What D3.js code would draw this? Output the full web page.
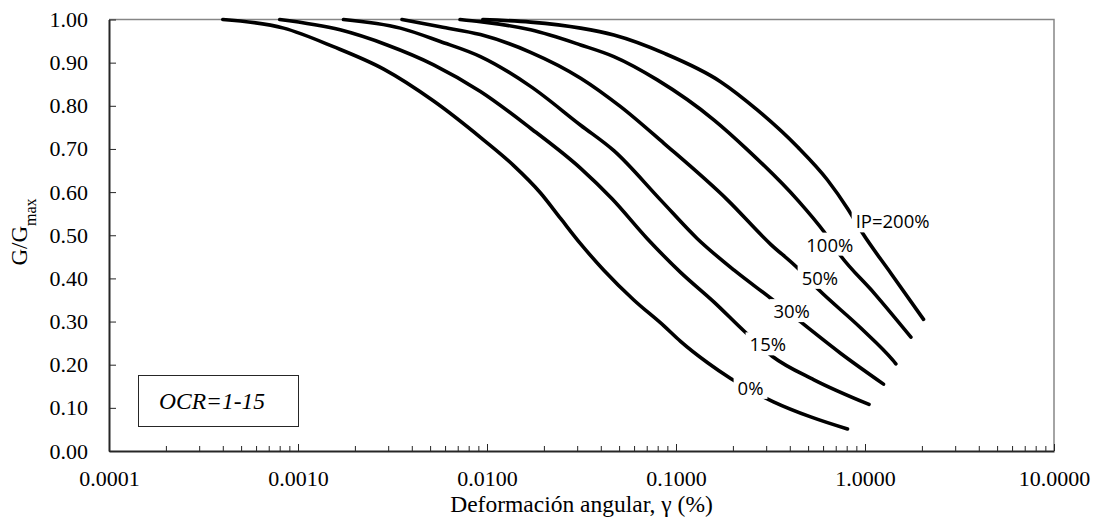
<!DOCTYPE html>
<html>
<head>
<meta charset="utf-8">
<script src="https://cdn.jsdelivr.net/npm/d3@7"></script>
<style>
  body { margin: 0; background: #fff; }
  svg { display: block; }
  .axis text { font-family: "Liberation Serif", "Times New Roman", serif; font-size: 22px; fill: #000; }
  .axis path, .axis line { stroke: #262626; }
</style>
</head>
<body>
<div id="chart"></div>
<script>
// Vucetic & Dobry style G/Gmax curves, one pair of arrays per IP value
var ipLabels = ["0%", "15%", "30%", "50%", "100%", "IP=200%"];

var gammaIP0   = [0.0004, 0.00084, 0.00154, 0.00284, 0.00522, 0.0094, 0.0138, 0.0192, 0.0245, 0.0313, 0.0415, 0.0598, 0.0863, 0.1057, 0.1464, 0.1946, 0.328, 0.516, 0.808];
var ratioIP0   = [1.000, 0.980, 0.937, 0.885, 0.811, 0.724, 0.662, 0.598, 0.539, 0.480, 0.419, 0.350, 0.290, 0.254, 0.205, 0.168, 0.114, 0.079, 0.051];

var gammaIP15  = [0.0008, 0.00167, 0.00296, 0.00522, 0.00923, 0.017, 0.0313, 0.046, 0.0705, 0.1057, 0.159, 0.229, 0.324, 0.537, 1.05];
var ratioIP15  = [1.000, 0.976, 0.941, 0.895, 0.833, 0.748, 0.655, 0.584, 0.492, 0.414, 0.345, 0.278, 0.219, 0.165, 0.108];

var gammaIP30  = [0.00174, 0.00348, 0.00566, 0.00923, 0.017, 0.0313, 0.0469, 0.0828, 0.1297, 0.203, 0.317, 0.448, 0.745, 1.253];
var ratioIP30  = [1.000, 0.980, 0.949, 0.914, 0.845, 0.755, 0.696, 0.582, 0.492, 0.419, 0.354, 0.302, 0.226, 0.155];

var gammaIP50  = [0.00355, 0.00566, 0.00923, 0.017, 0.0313, 0.0509, 0.0863, 0.187, 0.317, 0.430, 0.571, 0.95, 1.40, 1.456];
var ratioIP50  = [1.000, 0.983, 0.965, 0.924, 0.864, 0.798, 0.713, 0.582, 0.479, 0.428, 0.373, 0.285, 0.211, 0.202];

var gammaIP100 = [0.0072, 0.00923, 0.017, 0.0313, 0.0469, 0.0796, 0.159, 0.239, 0.439, 0.607, 0.745, 1.117, 1.749];
var ratioIP100 = [1.000, 0.995, 0.976, 0.941, 0.914, 0.860, 0.767, 0.698, 0.582, 0.508, 0.452, 0.366, 0.264];

var gammaIP200 = [0.0095, 0.017, 0.0313, 0.0469, 0.0863, 0.172, 0.270, 0.439, 0.633, 0.808, 0.970, 1.37, 2.04];
var ratioIP200 = [1.000, 0.994, 0.980, 0.964, 0.922, 0.856, 0.790, 0.705, 0.628, 0.562, 0.505, 0.412, 0.305];

// where each curve label sits (strain, G/Gmax)
var labelGamma = [0.248, 0.306, 0.409, 0.577, 0.651, 1.40];
var labelRatio = [0.145, 0.246, 0.323, 0.400, 0.477, 0.531];

var xTicks = [0.0001, 0.001, 0.01, 0.1, 1, 10];
var yTicks = [0, 0.1, 0.2, 0.3, 0.4, 0.5, 0.6, 0.7, 0.8, 0.9, 1.0];

var gammas = [gammaIP0, gammaIP15, gammaIP30, gammaIP50, gammaIP100, gammaIP200];
var ratios = [ratioIP0, ratioIP15, ratioIP30, ratioIP50, ratioIP100, ratioIP200];

var width = 1098, height = 518,
    plotLeft = 109, plotRight = 1054, plotTop = 19.5, plotBottom = 451;

var svg = d3.select("#chart").append("svg")
    .attr("width", width)
    .attr("height", height);

var x = d3.scaleLog().domain([0.0001, 10]).range([plotLeft, plotRight]);
var y = d3.scaleLinear().domain([0, 1]).range([plotBottom, plotTop]);

// top / right frame
svg.append("path")
    .attr("d", "M" + plotLeft + "," + plotTop + "H" + plotRight + "V" + plotBottom)
    .attr("fill", "none")
    .attr("stroke", "#868686")
    .attr("stroke-width", 1.5);

// minor x ticks
var minor = x.ticks().filter(function(t) { return xTicks.indexOf(t) < 0; });
svg.append("g")
    .attr("class", "axis")
    .attr("transform", "translate(0," + plotBottom + ")")
    .call(d3.axisBottom(x).tickValues(minor).tickSizeInner(-5).tickSizeOuter(0).tickFormat(""))
    .call(function(g) { g.select(".domain").remove(); });

svg.append("g")
    .attr("class", "axis")
    .attr("transform", "translate(0," + plotBottom + ")")
    .call(d3.axisBottom(x).tickValues(xTicks).tickSizeInner(-7).tickSizeOuter(0)
        .tickPadding(19).tickFormat(d3.format(".4f")))
    .call(function(g) { g.select(".domain").attr("stroke-width", 2); });

svg.append("g")
    .attr("class", "axis")
    .attr("transform", "translate(" + plotLeft + ",0)")
    .call(d3.axisLeft(y).tickValues(yTicks).tickSizeInner(-7).tickSizeOuter(0)
        .tickPadding(21).tickFormat(d3.format(".2f")))
    .call(function(g) { g.select(".domain").attr("stroke-width", 2); });

// curves
var line = d3.line()
    .x(function(d) { return x(d[0]); })
    .y(function(d) { return y(d[1]); })
    .curve(d3.curveMonotoneX);

svg.append("g").selectAll("path")
    .data(gammas.map(function(g, i) { return d3.zip(g, ratios[i]); }))
    .join("path")
    .attr("d", line)
    .attr("fill", "none")
    .attr("stroke", "#000")
    .attr("stroke-width", 3.6)
    .attr("stroke-linecap", "round");

// labels, with a white patch that breaks the line
var labels = svg.append("g").selectAll("g")
    .data(ipLabels)
    .join("g")
    .attr("transform", function(d, i) {
        return "translate(" + x(labelGamma[i]) + "," + y(labelRatio[i]) + ")";
    });

labels.append("text")
    .text(function(d) { return d; })
    .attr("text-anchor", "middle")
    .attr("dy", "0.35em")
    .style("font-family", "'Open Sans', sans-serif")
    .style("font-size", "18.5px")
    .attr("fill", "#000");

labels.insert("rect", "text")
    .each(function() {
        var b = this.parentNode.querySelector("text").getBBox();
        d3.select(this)
            .attr("x", b.x - 4).attr("y", b.y + 1)
            .attr("width", b.width + 8).attr("height", b.height - 2);
    })
    .attr("fill", "#fff");

// OCR box
svg.append("rect")
    .attr("x", 138.5).attr("y", 375.5)
    .attr("width", 160).attr("height", 51)
    .attr("fill", "#fff")
    .attr("stroke", "#262626")
    .attr("stroke-width", 1);

svg.append("text")
    .attr("x", 212).attr("y", 401)
    .attr("dy", "0.35em")
    .attr("text-anchor", "middle")
    .style("font-family", "'Liberation Serif', serif")
    .style("font-style", "italic")
    .style("font-size", "23.5px")
    .text("OCR=1-15");

// axis titles
svg.append("text")
    .attr("x", (plotLeft + plotRight) / 2)
    .attr("y", 512)
    .attr("text-anchor", "middle")
    .style("font-family", "'Liberation Serif', serif")
    .style("font-size", "23.5px")
    .text("Deformación angular, γ (%)");

var yt = svg.append("text")
    .attr("transform", "translate(27,232) rotate(-90)")
    .attr("text-anchor", "middle")
    .style("font-family", "'Liberation Serif', serif")
    .style("font-size", "23px");
yt.append("tspan").text("G/G");
yt.append("tspan").attr("baseline-shift", "sub").style("font-size", "16px").text("max");
</script>
</body>
</html>
